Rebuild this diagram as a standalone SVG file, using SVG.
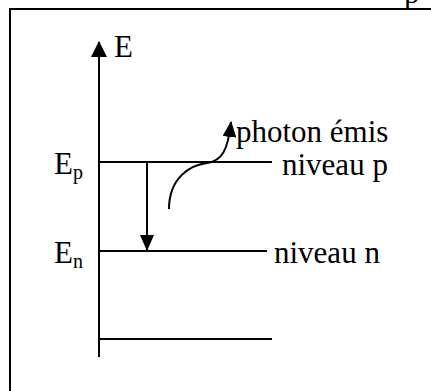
<svg xmlns="http://www.w3.org/2000/svg" width="431" height="391" viewBox="0 0 431 391">
<style>
.ln{stroke:#000;stroke-width:2;fill:none}
.t{font-family:"Liberation Serif","Times New Roman","DejaVu Serif",serif;font-size:31px;fill:#000}
.s{font-size:20px}
</style>
<defs>
<marker id="big" viewBox="0 0 16 16" markerWidth="16" markerHeight="16" refX="15" refY="8" orient="auto" markerUnits="userSpaceOnUse">
<path d="M0,0 L16,8 L0,16 Z" fill="#000"/>
</marker>
<marker id="sm" viewBox="0 0 16 14" markerWidth="16" markerHeight="14" refX="15" refY="7" orient="auto" markerUnits="userSpaceOnUse">
<path d="M0,0 L16,7 L0,14 Z" fill="#000"/>
</marker>
</defs>
<rect width="431" height="391" fill="#fff"/>
<g id="frame">
<path class="ln" d="M10,391 V9 H431"/>
<text class="t" x="404" y="3">p</text>
</g>
<g id="connectors">
<line class="ln" x1="99" y1="357" x2="99" y2="42" marker-end="url(#big)"/>
<line class="ln" x1="147" y1="163" x2="147" y2="250" marker-end="url(#sm)"/>
<path class="ln" d="M169,209 C169,178 190,165 207,163 C222,161 228,150 231,122" marker-end="url(#sm)"/>
</g>
<g id="axis-label"><text class="t" x="114" y="57">E</text></g>
<g id="level-p">
<line class="ln" x1="99" y1="162" x2="272" y2="162"/>
<text class="t" x="54" y="174">E<tspan class="s" dy="5">p</tspan></text>
<text class="t" x="282" y="175">niveau p</text>
</g>
<g id="level-n">
<line class="ln" x1="99" y1="251" x2="267" y2="251"/>
<text class="t" x="54" y="263">E<tspan class="s" dy="5">n</tspan></text>
<text class="t" x="274" y="263">niveau n</text>
</g>
<g id="level-ground">
<line class="ln" x1="99" y1="339" x2="272" y2="339"/>
</g>
<g id="photon">
<text class="t" x="236" y="142">photon émis</text>
</g>
</svg>
